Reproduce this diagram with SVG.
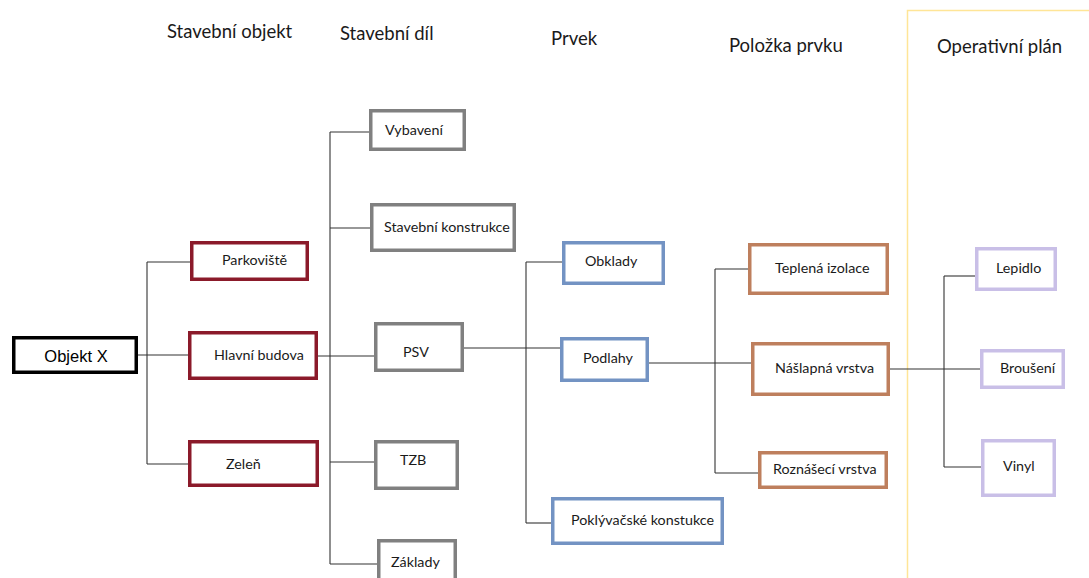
<svg xmlns="http://www.w3.org/2000/svg" width="1089" height="578" viewBox="0 0 1089 578">
<style>
text{font-family:Lato,"Open Sans","Liberation Sans",sans-serif;fill:#1a1a1a}
.hd{font-size:18.5px}
.lb{font-size:14.3px}
rect{fill:#fff;stroke-width:3.5}
.blk{stroke:#000}
.red{stroke:#8B1A2A}
.gry{stroke:#808080}
.blu{stroke:#7393C3}
.brn{stroke:#BE7F5D}
.lav{stroke:#C9BFE7}
.cn line{stroke:#333;stroke-width:1.1}
</style>
<rect width="1089" height="578" fill="#fff" stroke="none"/>
<path d="M907.5 578 V10.5 H1089" fill="none" stroke="#FFE597" stroke-width="1.5"/>
<g id="headers">
<text class="hd" x="167" y="38">Stavební objekt</text>
<text class="hd" x="340" y="40">Stavební díl</text>
<text class="hd" x="551" y="45">Prvek</text>
<text class="hd" x="729" y="52">Položka prvku</text>
<text class="hd" x="937" y="53">Operativní plán</text>
</g>
<g class="cn" id="connectors">
<line x1="147" y1="262" x2="147" y2="464"/>
<line x1="147" y1="262" x2="190" y2="262"/>
<line x1="138" y1="355" x2="188" y2="355"/>
<line x1="147" y1="464" x2="188" y2="464"/>
<line x1="318" y1="356" x2="374" y2="356"/>
<line x1="330" y1="132" x2="330" y2="564"/>
<line x1="330" y1="132" x2="369" y2="132"/>
<line x1="330" y1="228" x2="370" y2="228"/>
<line x1="330" y1="462" x2="374" y2="462"/>
<line x1="330" y1="564" x2="377" y2="564"/>
<line x1="464" y1="348" x2="560" y2="348"/>
<line x1="526" y1="262" x2="526" y2="523"/>
<line x1="526" y1="262" x2="562" y2="262"/>
<line x1="526" y1="523" x2="551" y2="523"/>
<line x1="649" y1="363" x2="751" y2="363"/>
<line x1="715" y1="269" x2="715" y2="473"/>
<line x1="715" y1="269" x2="748" y2="269"/>
<line x1="715" y1="473" x2="758" y2="473"/>
<line x1="890" y1="369" x2="980" y2="369"/>
<line x1="944" y1="276" x2="944" y2="467"/>
<line x1="944" y1="276" x2="975" y2="276"/>
<line x1="944" y1="467" x2="981" y2="467"/>
</g>
<g id="objekt-x"><rect class="blk" x="13.75" y="337.75" width="122.5" height="34.5"/><text x="76" y="362" text-anchor="middle" style="font-family:'Liberation Sans',Arial,sans-serif;font-size:16.5px;fill:#000">Objekt X</text></g>
<g id="parkoviste"><rect class="red" x="191.75" y="242.75" width="115.5" height="36.5"/><text class="lb" x="222" y="265">Parkoviště</text></g>
<g id="hlavni-budova"><rect class="red" x="189.75" y="332.75" width="126.5" height="45.5"/><text class="lb" x="214" y="360">Hlavní budova</text></g>
<g id="zelen"><rect class="red" x="189.75" y="441.75" width="127.5" height="43.5"/><text class="lb" x="226" y="469">Zeleň</text></g>
<g id="vybaveni"><rect class="gry" x="370.75" y="110.75" width="93.5" height="38.5"/><text class="lb" x="385" y="135">Vybavení</text></g>
<g id="stavebni-konstrukce"><rect class="gry" x="371.75" y="204.75" width="142.5" height="45.5"/><text class="lb" x="384" y="232">Stavební konstrukce</text></g>
<g id="psv"><rect class="gry" x="375.75" y="323.75" width="86.5" height="46.5"/><text class="lb" x="403" y="357">PSV</text></g>
<g id="tzb"><rect class="gry" x="375.75" y="441.75" width="81.5" height="46.5"/><text class="lb" x="400" y="465">TZB</text></g>
<g id="zaklady"><rect class="gry" x="378.75" y="540.75" width="76.5" height="50"/><text class="lb" x="391" y="567">Základy</text></g>
<g id="obklady"><rect class="blu" x="563.75" y="242.75" width="99.5" height="40.5"/><text class="lb" x="585" y="266">Obklady</text></g>
<g id="podlahy"><rect class="blu" x="561.75" y="338.75" width="85.5" height="41.5"/><text class="lb" x="583" y="363">Podlahy</text></g>
<g id="poklyvacske"><rect class="blu" x="552.75" y="498.75" width="169.5" height="44.5"/><text class="lb" x="571" y="525">Poklývačské konstukce</text></g>
<g id="teplena-izolace"><rect class="brn" x="749.75" y="244.75" width="137.5" height="48.5"/><text class="lb" x="775" y="273">Teplená izolace</text></g>
<g id="naslapna-vrstva"><rect class="brn" x="752.75" y="343.75" width="135.5" height="50.5"/><text class="lb" x="775" y="373">Nášlapná vrstva</text></g>
<g id="roznaseci-vrstva"><rect class="brn" x="759.75" y="452.75" width="126.5" height="34.5"/><text class="lb" x="773" y="474">Roznášecí vrstva</text></g>
<g id="lepidlo"><rect class="lav" x="976.75" y="248.75" width="78.5" height="40.5"/><text class="lb" x="996" y="273">Lepidlo</text></g>
<g id="brouseni"><rect class="lav" x="981.75" y="350.75" width="81.5" height="36.5"/><text class="lb" x="1000" y="373">Broušení</text></g>
<g id="vinyl"><rect class="lav" x="982.75" y="440.75" width="71.5" height="54.5"/><text class="lb" x="1003" y="471">Vinyl</text></g>
</svg>
